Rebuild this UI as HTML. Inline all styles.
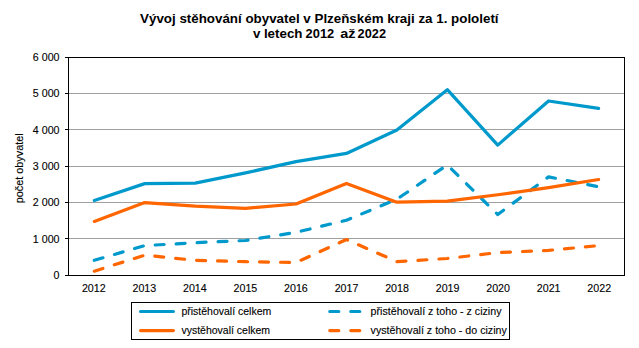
<!DOCTYPE html>
<html><head><meta charset="utf-8"><style>
html,body{margin:0;padding:0;background:#fff;width:639px;height:348px;overflow:hidden}
svg{display:block}
.t{font-family:"Liberation Sans",sans-serif;font-size:10.67px;fill:#000;stroke:#000;stroke-width:0.12px}
.title{font-family:"Liberation Sans",sans-serif;font-size:13.33px;font-weight:bold;fill:#000}
</style></head><body>
<svg width="639" height="348" viewBox="0 0 639 348">
<rect width="639" height="348" fill="#fff"/>
<line x1="68" y1="238.5" x2="624" y2="238.5" stroke="#a0a0a0" stroke-width="1"/>
<line x1="68" y1="202.5" x2="624" y2="202.5" stroke="#a0a0a0" stroke-width="1"/>
<line x1="68" y1="166.5" x2="624" y2="166.5" stroke="#a0a0a0" stroke-width="1"/>
<line x1="68" y1="129.5" x2="624" y2="129.5" stroke="#a0a0a0" stroke-width="1"/>
<line x1="68" y1="93.5" x2="624" y2="93.5" stroke="#a0a0a0" stroke-width="1"/>
<line x1="65" y1="275.5" x2="68" y2="275.5" stroke="#000" stroke-width="1"/>
<line x1="65" y1="238.5" x2="68" y2="238.5" stroke="#000" stroke-width="1"/>
<line x1="65" y1="202.5" x2="68" y2="202.5" stroke="#000" stroke-width="1"/>
<line x1="65" y1="166.5" x2="68" y2="166.5" stroke="#000" stroke-width="1"/>
<line x1="65" y1="129.5" x2="68" y2="129.5" stroke="#000" stroke-width="1"/>
<line x1="65" y1="93.5" x2="68" y2="93.5" stroke="#000" stroke-width="1"/>
<line x1="65" y1="57.5" x2="68" y2="57.5" stroke="#000" stroke-width="1"/>
<rect x="68.5" y="57.5" width="556" height="218" fill="none" stroke="#000" stroke-width="1"/>
<text x="59.5" y="278.80" text-anchor="end" class="t">0</text>
<text x="59.5" y="242.80" text-anchor="end" class="t">1 000</text>
<text x="59.5" y="205.80" text-anchor="end" class="t">2 000</text>
<text x="59.5" y="169.80" text-anchor="end" class="t">3 000</text>
<text x="59.5" y="133.80" text-anchor="end" class="t">4 000</text>
<text x="59.5" y="96.80" text-anchor="end" class="t">5 000</text>
<text x="59.5" y="60.80" text-anchor="end" class="t">6 000</text>
<text x="93.77" y="291.8" text-anchor="middle" class="t">2012</text>
<text x="144.32" y="291.8" text-anchor="middle" class="t">2013</text>
<text x="194.86" y="291.8" text-anchor="middle" class="t">2014</text>
<text x="245.41" y="291.8" text-anchor="middle" class="t">2015</text>
<text x="295.95" y="291.8" text-anchor="middle" class="t">2016</text>
<text x="346.50" y="291.8" text-anchor="middle" class="t">2017</text>
<text x="397.05" y="291.8" text-anchor="middle" class="t">2018</text>
<text x="447.59" y="291.8" text-anchor="middle" class="t">2019</text>
<text x="498.14" y="291.8" text-anchor="middle" class="t">2020</text>
<text x="548.68" y="291.8" text-anchor="middle" class="t">2021</text>
<text x="599.23" y="291.8" text-anchor="middle" class="t">2022</text>
<polyline points="94.30,200.59 144.73,183.62 195.16,183.08 245.59,172.90 296.02,161.57 346.45,153.43 396.88,130.03 447.31,89.70 497.74,145.11 548.57,100.96 598.60,108.41" fill="none" stroke="#0099cc" stroke-width="3.2" stroke-linecap="round" stroke-linejoin="round"/>
<polyline points="94.30,260.29 144.73,245.61 195.16,242.70 245.59,240.48 296.02,232.31 346.45,220.21 396.88,199.25 447.31,164.91 497.74,214.50 548.57,176.90 598.60,186.71" fill="none" stroke="#0099cc" stroke-width="3.2" stroke-linecap="round" stroke-linejoin="round" stroke-dasharray="9 12"/>
<polyline points="94.30,221.41 144.73,202.59 195.16,206.22 245.59,208.29 296.02,204.00 346.45,183.40 396.88,202.22 447.31,201.21 497.74,194.74 548.57,187.62 598.60,179.52" fill="none" stroke="#ff6600" stroke-width="3.2" stroke-linecap="round" stroke-linejoin="round"/>
<polyline points="94.30,271.19 144.73,255.20 195.16,260.29 245.59,261.70 296.02,262.46 346.45,239.57 396.88,261.59 447.31,258.50 497.74,252.58 548.57,250.40 598.60,245.61" fill="none" stroke="#ff6600" stroke-width="3.2" stroke-linecap="round" stroke-linejoin="round" stroke-dasharray="9 12"/>
<text transform="translate(22.9,168.3) rotate(-90)" text-anchor="middle" class="t" textLength="70" lengthAdjust="spacingAndGlyphs">počet obyvatel</text>
<text transform="translate(319.3,22.7)" text-anchor="middle" class="title" textLength="358.5" lengthAdjust="spacingAndGlyphs">Vývoj stěhování obyvatel v Plzeňském kraji za 1. pololetí</text>
<g transform="translate(0,37.7)"><text class="title" x="253.1" y="0">v</text><text class="title" x="263.9" y="0" textLength="38.6" lengthAdjust="spacingAndGlyphs">letech</text><text class="title" x="305.6" y="0" textLength="28.6" lengthAdjust="spacingAndGlyphs">2012</text><text class="title" x="340.2" y="0" textLength="15.2" lengthAdjust="spacingAndGlyphs">až</text><text class="title" x="357.6" y="0" textLength="28.4" lengthAdjust="spacingAndGlyphs">2022</text></g>
<rect x="131.5" y="302.5" width="378" height="37" fill="none" stroke="#000" stroke-width="1"/>
<line x1="140.6" y1="311.5" x2="173.4" y2="311.5" stroke="#0099cc" stroke-width="3.2" stroke-linecap="round"/>
<line x1="140.6" y1="330.6" x2="173.4" y2="330.6" stroke="#ff6600" stroke-width="3.2" stroke-linecap="round"/>
<line x1="329.8" y1="311.5" x2="360" y2="311.5" stroke="#0099cc" stroke-width="3.2" stroke-linecap="round" stroke-dasharray="9 12"/>
<line x1="329.8" y1="330.6" x2="360" y2="330.6" stroke="#ff6600" stroke-width="3.2" stroke-linecap="round" stroke-dasharray="9 12"/>
<text x="181.4" y="314.9" class="t" textLength="89.9" lengthAdjust="spacingAndGlyphs">přistěhovalí celkem</text>
<text x="181.4" y="333.8" class="t" textLength="88.7" lengthAdjust="spacingAndGlyphs">vystěhovalí celkem</text>
<text x="370.6" y="314.9" class="t">přistěhovalí z toho - z ciziny</text>
<text x="370.6" y="333.8" class="t">vystěhovalí z toho - do ciziny</text>
</svg>
</body></html>
